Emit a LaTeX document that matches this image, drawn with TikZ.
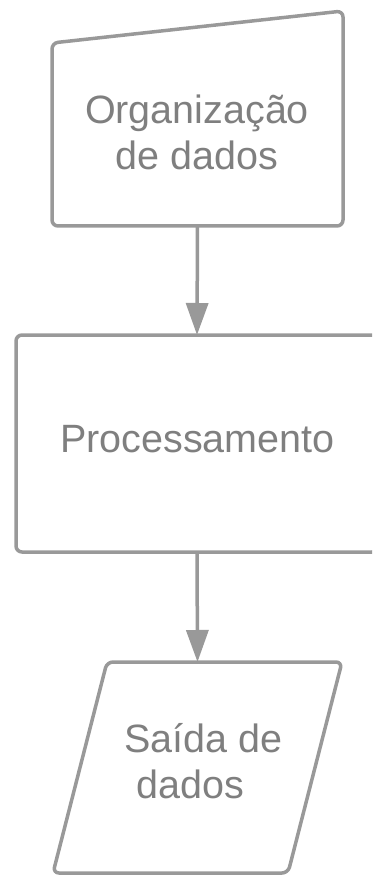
\documentclass[tikz,border=0pt]{standalone}
\usepackage{fontspec}
\setmainfont{Liberation Sans}
\usetikzlibrary{arrows.meta}
\definecolor{linegray}{HTML}{999999}
\definecolor{textgray}{HTML}{7F7F7F}
\begin{document}
\begin{tikzpicture}[x=1pt,y=-1pt,
  frame/.style={draw=none,inner sep=0pt,outer sep=0pt,rectangle},
  outline/.style={draw=linegray,line width=3.5pt,rounded corners=6pt,line join=round},
  conn/.style={draw=linegray,line width=3.5pt,-{Triangle[length=32pt,width=22pt]}},
  txt/.style={text=textgray,font=\fontsize{39.5}{46}\selectfont,align=center,inner sep=0pt}]
\clip (0,0) rectangle (372,877);
% frames
\node[frame,minimum width=291pt,minimum height=183pt] (org) at (197.5,134.5) {};
\node[frame,minimum width=362pt,minimum height=217pt] (proc) at (197,443.5) {};
\node[frame,minimum width=289pt,minimum height=211pt] (out) at (197.5,767.5) {};
% outlines
\draw[outline] (org.south west) -- (org.north west) -- ([yshift=32pt]org.north east) -- (org.south east) -- cycle;
\draw[outline] (proc.south west) rectangle (proc.north east);
\draw[outline] ([xshift=54pt]out.north west) -- (out.north east) -- ([xshift=-54pt]out.south east) -- (out.south west) -- cycle;
% texts
\node[txt] (orgtxt) at (197,132) {Organização\\de dados};
\node[txt] (proctxt) at (197.5,439) {Processamento};
\node[txt] (outtxt) at (203.5,761) {Saída de\\dados\rule{26pt}{0pt}};
% connectors
\draw[conn] (org.south) -- (proc.north);
\draw[conn] (proc.south) -- (out.north);
\end{tikzpicture}
\end{document}
